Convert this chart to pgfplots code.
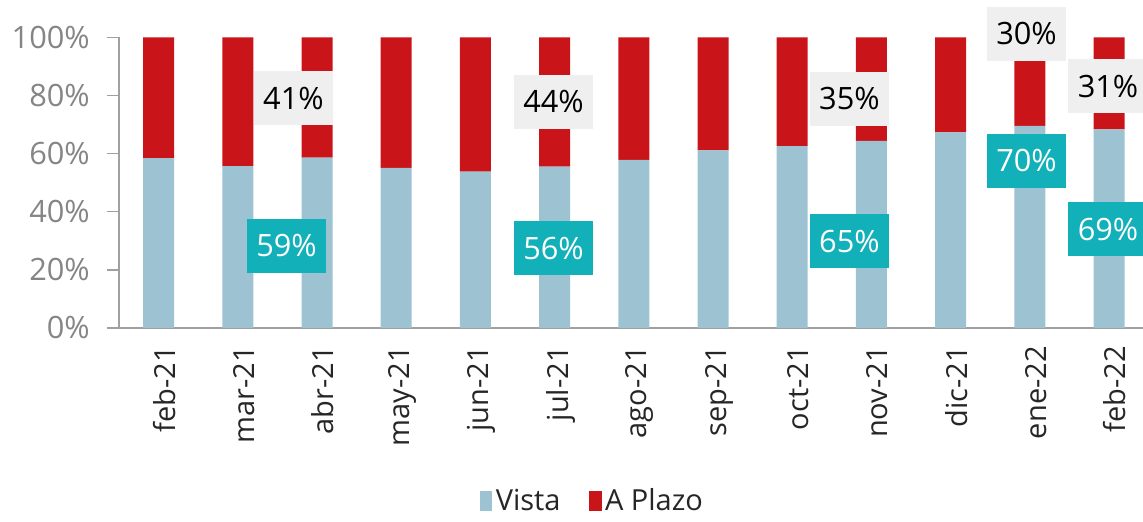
\documentclass[border=0pt]{standalone}
\usepackage{fontspec}
\setmainfont{Open Sans}
\usepackage{pgfplots}
\pgfplotsset{compat=1.18}
\definecolor{vista}{HTML}{9DC3D3}
\definecolor{plazo}{HTML}{C9141A}
\definecolor{teal}{HTML}{12B0B8}
\definecolor{boxgray}{HTML}{EFEFEF}
\definecolor{axisgray}{HTML}{A0A0A0}
\definecolor{tickgray}{HTML}{858585}

\begin{document}
\begin{tikzpicture}[
  gbox/.style={fill=boxgray, text=black, minimum width=1.58cm, minimum height=1.08cm, inner sep=0pt, font=\fontsize{17.5}{19}\selectfont},
  tbox/.style={fill=teal, text=white, minimum width=1.58cm, minimum height=1.08cm, inner sep=0pt, font=\fontsize{17.5}{19}\selectfont},
]
\begin{axis}[
    name=ax,
    x=1.584cm, y=0.05814cm,
    ybar stacked,
    bar width=0.62cm,
    xmin=-0.5, xmax=12.429,
    ymin=0, ymax=100,
    axis x line*=bottom,
    axis y line*=left,
    axis line style={axisgray, line width=0.8pt},
    clip=false,
    xtick={0,...,12},
    xticklabels={feb-21,mar-21,abr-21,may-21,jun-21,jul-21,ago-21,sep-21,oct-21,nov-21,dic-21,ene-22,feb-22},
    xtick style={draw=none},
    minor xtick={-0.5,0.5,...,11.5},
    minor x tick style={axisgray, line width=0.8pt},
    minor tick length=0.24cm,
    major tick length=0.24cm,
    tick align=outside,
    ytick={0,20,...,100},
    ytick style={axisgray, line width=0.8pt},
    yticklabel={\pgfmathprintnumber{\tick}\%},
    /pgf/number format/assume math mode=true,
    yticklabel style={text=tickgray, font=\fontsize{17.5}{19}\selectfont, xshift=-0.22cm},
    xticklabel style={rotate=90, anchor=east, text=black!85, font=\fontsize{16.5}{18}\selectfont, yshift=-0.12cm},
    legend style={at={(0.463,-0.595)}, anchor=center, draw=none, legend columns=2,
      font=\fontsize{16.5}{18}\selectfont, text=black!85, inner sep=1pt,
      /tikz/every even column/.append style={column sep=0.5cm}},
    legend image code/.code={\fill[#1] (0.05cm,-0.2cm) rectangle (0.3cm,0.2cm);},
]
\addplot[fill=vista, draw=none] coordinates {
  (0,58.4) (1,55.7) (2,58.6) (3,55.1) (4,53.8) (5,55.5) (6,57.8)
  (7,61.1) (8,62.6) (9,64.4) (10,67.3) (11,69.5) (12,68.3)};
\addplot[fill=plazo, draw=none] coordinates {
  (0,41.6) (1,44.3) (2,41.4) (3,44.9) (4,46.2) (5,44.5) (6,42.2)
  (7,38.9) (8,37.4) (9,35.6) (10,32.7) (11,30.5) (12,31.7)};
\legend{Vista, A Plazo}

\coordinate (g1) at (axis cs:1.703,79.1);
\coordinate (t1) at (axis cs:1.615,28.2);
\coordinate (g2) at (axis cs:4.986,77.9);
\coordinate (t2) at (axis cs:4.986,27.5);
\coordinate (g3) at (axis cs:8.723,78.9);
\coordinate (t3) at (axis cs:8.723,29.9);
\coordinate (g4) at (axis cs:10.958,101.3);
\coordinate (t4) at (axis cs:10.958,57.6);
\coordinate (g5) at (axis cs:11.987,83.1);
\coordinate (t5) at (axis cs:11.987,33.9);

\coordinate (bl) at (axis cs:-2.0025,-66.74);
\coordinate (tr) at (axis cs:12.429,112.83);
\end{axis}
% value boxes drawn on top of the bars
\node[gbox] at (g1) {41\%};
\node[tbox] at (t1) {59\%};
\node[gbox] at (g2) {44\%};
\node[tbox] at (t2) {56\%};
\node[gbox] at (g3) {35\%};
\node[tbox] at (t3) {65\%};
\node[gbox] at (g4) {30\%};
\node[tbox] at (t4) {70\%};
\node[gbox] at (g5) {31\%};
\node[tbox] at (t5) {69\%};
\pgfresetboundingbox
\useasboundingbox (bl) rectangle (tr);
\end{tikzpicture}
\end{document}
